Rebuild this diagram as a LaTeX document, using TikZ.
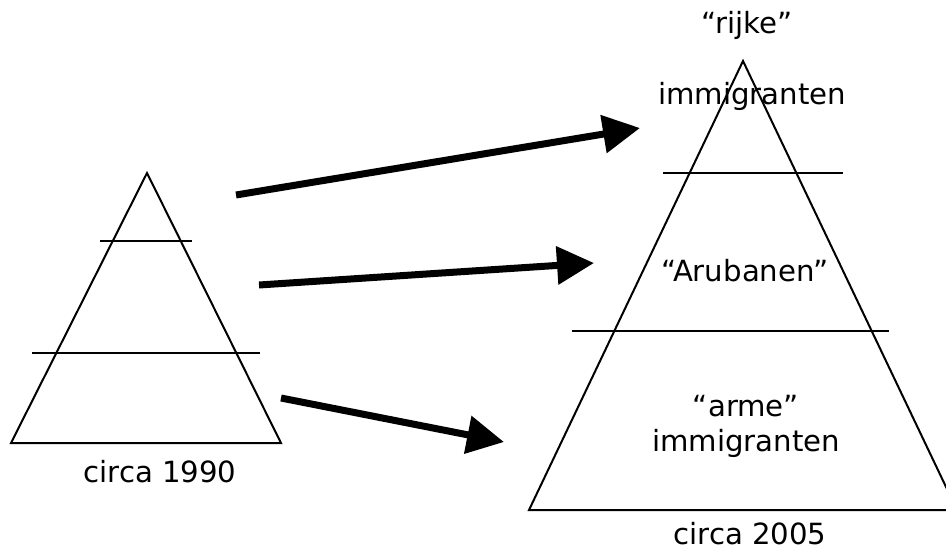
\documentclass[tikz,border=0pt]{standalone}
\usepackage{fontspec}
\setmainfont{DejaVu Sans}
\usetikzlibrary{positioning,arrows.meta}

\begin{document}
\begin{tikzpicture}
  [
      x=0.5pt, y=-0.5pt,
      layer/.style={line width=1pt},
      shift arrow/.style={line width=3.5pt, -{Triangle[length=18.5pt,width=18.5pt]}},
      txt/.style={inner sep=0pt, align=center, font=\fontsize{14.6}{17.5}\selectfont},
    ]
    \useasboundingbox (0,0) rectangle (946,552);

    % circa 1990
    \draw [layer] (147,173) -- (281,443) -- (11,443) -- cycle;
    \draw [layer] (100,241) -- (192,241);
    \draw [layer] (32,353) -- (260,353);
    \node (old) [txt] at (160,472) {circa 1990};

    % circa 2005
    \draw [layer] (743,61) -- (957,510) -- (529,510) -- cycle;
    \draw [layer] (663,173) -- (843,173);
    \draw [layer] (572,331) -- (889,331);
    \node (rich1) [txt] at (747,25) {“rijke”};
    \node (rich2) [txt] at (752,96) {immigranten};
    \node (aru) [txt] at (745,271) {“Arubanen”};
    \node (poor) [txt] at (746,426) {“arme”\\immigranten};
    \node (new) [txt] at (750,534) {circa 2005};

    \coordinate (top a) at (236,195);
    \coordinate (top b) at (640,128);
    \coordinate (mid a) at (259,285);
    \coordinate (mid b) at (594,263);
    \coordinate (low a) at (281,398);
    \coordinate (low b) at (504,442);

    \draw [shift arrow] (top a) -- (top b);
    \draw [shift arrow] (mid a) -- (mid b);
    \draw [shift arrow] (low a) -- (low b);

  \end{tikzpicture}
\end{document}
